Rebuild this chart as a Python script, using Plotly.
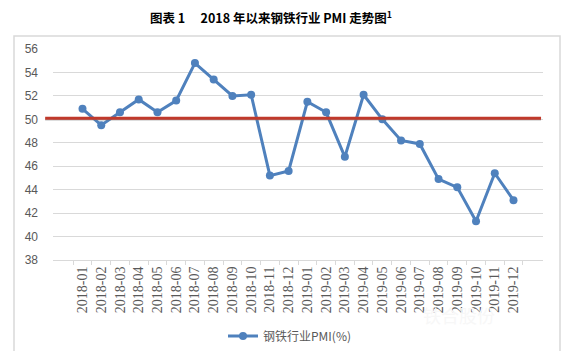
import plotly.graph_objects as go

months = ["2018-01","2018-02","2018-03","2018-04","2018-05","2018-06","2018-07","2018-08",
          "2018-09","2018-10","2018-11","2018-12","2019-01","2019-02","2019-03","2019-04",
          "2019-05","2019-06","2019-07","2019-08","2019-09","2019-10","2019-11","2019-12"]
pmi = [50.9, 49.5, 50.6, 51.7, 50.6, 51.6, 54.8, 53.4, 52.0, 52.1, 45.2, 45.6,
       51.5, 50.6, 46.8, 52.1, 50.0, 48.2, 47.9, 44.9, 44.2, 41.3, 45.4, 43.1]
threshold = 50.1
ytick_vals = [38, 40, 42, 44, 46, 48, 50, 52, 54, 56]

fig = go.Figure()
fig.add_trace(go.Scatter(
    x=months, y=pmi, mode="lines+markers", name="钢铁行业PMI(%)",
    line=dict(color="#4f81bd", width=3),
    marker=dict(size=8, color="#4f81bd"),
))

# red reference line with grey shadow
fig.add_shape(type="line", xref="paper", yref="y", x0=-0.016, x1=0.996,
              y0=threshold - 0.12, y1=threshold - 0.12,
              line=dict(color="rgba(120,120,120,0.5)", width=2), layer="above")
fig.add_shape(type="line", xref="paper", yref="y", x0=-0.016, x1=0.996,
              y0=threshold, y1=threshold,
              line=dict(color="#c0392b", width=3), layer="above")

# outer chart border
fig.add_shape(type="rect", xref="paper", yref="paper", x0=-0.0796, x1=1.0347,
              y0=-0.45, y1=1.0616, line=dict(color="#d9d9d9", width=1.5), layer="below")

fig.add_annotation(text="<b>图表 1　 2018 年以来钢铁行业 PMI 走势图<sup>1</sup></b>",
                   xref="paper", yref="paper", x=(271-53)/490, y=(260-17)/211,
                   showarrow=False, xanchor="center", yanchor="middle",
                   font=dict(family="Noto Sans CJK SC", size=12.5, color="#000000"))
fig.add_annotation(text="铁合股份", xref="paper", yref="paper",
                   x=(497-53)/490, y=(260-330)/211, showarrow=False,
                   font=dict(family="Noto Sans CJK SC", size=18, color="#f7f7f7"))

fig.update_layout(
    width=570, height=351,
    margin=dict(l=53, r=27, t=49, b=91, autoexpand=False),
    paper_bgcolor="white", plot_bgcolor="white",
    showlegend=True,
    legend=dict(orientation="h", x=(290-53)/490, xanchor="center",
                y=(260-336)/211, yanchor="middle",
                font=dict(family="Noto Sans CJK SC", size=12, color="#595959")),
    xaxis=dict(type="category", tickangle=-90, showgrid=False, automargin=False,
               showline=True, linecolor="#d9d9d9", linewidth=1,
               ticks="outside", tickson="boundaries", ticklen=4, tickcolor="#d9d9d9",
               tickfont=dict(family="Liberation Serif", size=14, color="#595959")),
    yaxis=dict(range=[38, 56], tickvals=ytick_vals, showgrid=True, automargin=False,
               gridcolor="#d9d9d9", gridwidth=1, zeroline=False, showline=False,
               ticks="", ticklabelstandoff=14,
               tickfont=dict(family="Liberation Sans", size=12, color="#595959")),
)

fig.write_html("out.html")
